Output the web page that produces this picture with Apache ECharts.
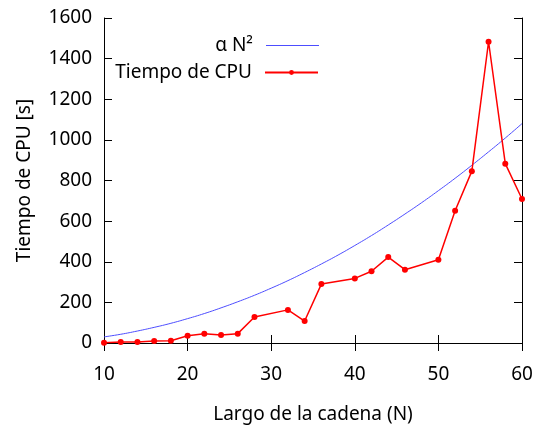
<!DOCTYPE html>
<html>
<head>
<meta charset="utf-8">
<script src="https://cdn.jsdelivr.net/npm/echarts@6/dist/echarts.min.js"></script>
<style>
  html, body { margin: 0; padding: 0; background: #fff; }
  #chart { width: 538px; height: 426px; }
</style>
</head>
<body>
<div id="chart"></div>
<script>
// Measured CPU time versus chain length
const cpuN = [10, 12, 14, 16, 18, 20, 22, 24, 26, 28, 32, 34, 36, 40, 42, 44, 46, 50, 52, 54, 56, 58, 60];
const cpuTime = [1, 5, 5, 10, 11, 36, 46, 39, 46, 128, 163, 108, 290, 318, 353, 423, 361, 410, 651, 846, 1483, 883, 709];

// Quadratic reference curve (alpha N^2), sampled every 2 units of N
const fitN = [10, 12, 14, 16, 18, 20, 22, 24, 26, 28, 30, 32, 34, 36, 38, 40, 42, 44, 46, 48, 50, 52, 54, 56, 58, 60];
const fitTime = [30, 43, 59, 77, 97, 120, 145, 173, 203, 235, 270, 307, 347, 389, 433, 480, 529, 581, 635, 691, 750, 811, 875, 941, 1009, 1080];

const xTicks = { min: 10, max: 60, interval: 10 };
const yTicks = { min: 0, max: 1600, interval: 200 };

const FONT = 'Noto Sans';
const chart = echarts.init(document.getElementById('chart'));

const tickStyle = { show: true, inside: true, length: 8, lineStyle: { color: '#000', width: 1 } };
const lineStyle = { show: true, lineStyle: { color: '#000', width: 1 } };
const plain = v => String(v);

const legendText = { fontFamily: FONT, fontSize: 19, color: '#000', padding: [0, 8, 0, 0] };

chart.setOption({
  animation: false,
  textStyle: { fontFamily: FONT },
  grid: { left: 104, right: 16, top: 18, bottom: 83, containLabel: false, outerBoundsMode: 'none' },
  legend: [
    {
      data: [{ name: 'α N²', icon: 'rect' }],
      right: 214, top: 31, orient: 'vertical', align: 'right',
      itemWidth: 53, itemHeight: 1,
      textStyle: legendText
    },
    {
      data: [{ name: 'Tiempo de CPU' }],
      right: 214, top: 58, orient: 'vertical', align: 'right',
      itemWidth: 53, itemHeight: 6,
      textStyle: legendText
    }
  ],
  xAxis: [
    {
      type: 'value', min: xTicks.min, max: xTicks.max, interval: xTicks.interval,
      position: 'bottom',
      name: 'Largo de la cadena (N)', nameLocation: 'middle', nameGap: 62,
      nameTextStyle: { fontFamily: FONT, fontSize: 19, color: '#000' },
      axisLine: lineStyle, axisTick: tickStyle,
      axisLabel: { fontFamily: FONT, fontSize: 19, color: '#000', margin: 22, formatter: plain },
      splitLine: { show: false }
    },
    {
      type: 'value', min: xTicks.min, max: xTicks.max, interval: xTicks.interval,
      position: 'top',
      axisLine: lineStyle, axisTick: tickStyle,
      axisLabel: { show: false }, splitLine: { show: false }
    }
  ],
  yAxis: [
    {
      type: 'value', min: yTicks.min, max: yTicks.max, interval: yTicks.interval,
      position: 'left',
      name: 'Tiempo de CPU [s]', nameLocation: 'middle', nameGap: 70,
      nameTextStyle: { fontFamily: FONT, fontSize: 19, color: '#000' },
      axisLine: lineStyle, axisTick: tickStyle,
      axisLabel: { fontFamily: FONT, fontSize: 19, color: '#000', margin: 12, formatter: plain },
      splitLine: { show: false }
    },
    {
      type: 'value', min: yTicks.min, max: yTicks.max, interval: yTicks.interval,
      position: 'right',
      axisLine: lineStyle, axisTick: tickStyle,
      axisLabel: { show: false }, splitLine: { show: false }
    }
  ],
  series: [
    {
      name: 'α N²', type: 'line',
      data: fitN.map((n, i) => [n, fitTime[i]]),
      showSymbol: false, symbol: 'none', smooth: true,
      lineStyle: { color: '#4d4dff', width: 1 },
      itemStyle: { color: '#4d4dff' },
      z: 2
    },
    {
      name: 'Tiempo de CPU', type: 'line',
      data: cpuN.map((n, i) => [n, cpuTime[i]]),
      symbol: 'circle', symbolSize: 6,
      lineStyle: { color: '#ff0000', width: 1.5 },
      itemStyle: { color: '#ff0000' },
      z: 3
    }
  ]
});
</script>
</body>
</html>
